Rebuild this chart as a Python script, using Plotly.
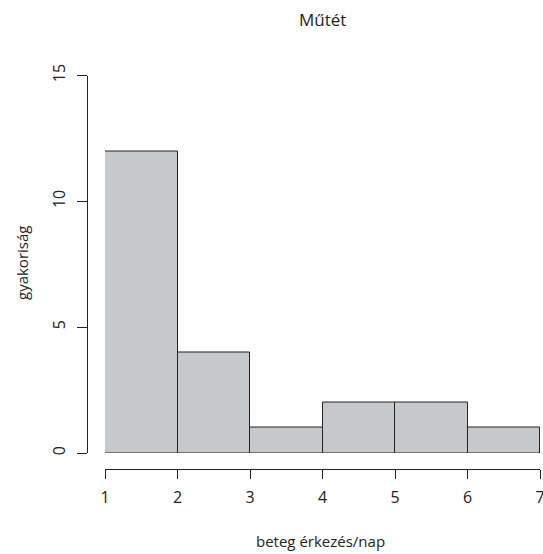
import plotly.graph_objects as go

# Data
breaks = [1, 2, 3, 4, 5, 6, 7]
counts = [12, 4, 1, 2, 2, 1]
x_ticks = [1, 2, 3, 4, 5, 6, 7]
y_ticks = [0, 5, 10, 15]
title = "Műtét"
x_title = "beteg érkezés/nap"
y_title = "gyakoriság"

W, H = 543, 554
mids = [(breaks[i] + breaks[i + 1]) / 2 for i in range(len(counts))]
widths = [breaks[i + 1] - breaks[i] for i in range(len(counts))]

FONT = "Open Sans"
LINE = "#222222"

fig = go.Figure()
fig.add_trace(go.Bar(
    x=mids, y=counts, width=widths,
    marker=dict(color="#c7c8ca", line=dict(color=LINE, width=1)),
    showlegend=False, hoverinfo="skip",
))

fig.update_layout(
    width=W, height=H,
    margin=dict(l=0, r=0, t=0, b=0),
    paper_bgcolor="white", plot_bgcolor="white",
    font=dict(family=FONT, size=15, color="#222222"),
    bargap=0,
    xaxis=dict(
        domain=[105 / W, 540 / W], range=[1, 7],
        anchor="free", position=1 - 468.5 / H,
        showline=True, linecolor=LINE, linewidth=1,
        ticks="outside", ticklen=9, tickcolor=LINE, tickwidth=1,
        tickvals=x_ticks, ticktext=[str(v) for v in x_ticks],
        showgrid=False, zeroline=False, automargin=False,
        ticklabeloverflow="allow", ticklabelstandoff=5,
        tickfont=dict(size=16),
    ),
    yaxis=dict(
        domain=[1 - 453 / H, 1 - 75.5 / H], range=[0, 15],
        anchor="free", position=87 / W,
        showline=True, linecolor=LINE, linewidth=1,
        ticks="outside", ticklen=10, tickcolor=LINE, tickwidth=1,
        tickvals=y_ticks, ticktext=[str(v) for v in y_ticks],
        tickangle=-90,
        showgrid=False, zeroline=False, automargin=False,
        ticklabeloverflow="allow", ticklabelstandoff=6,
        tickfont=dict(size=16),
    ),
    annotations=[
        dict(text=title, x=322.5 / W, y=1 - 20 / H, xref="paper", yref="paper",
             xanchor="center", yanchor="middle", showarrow=False,
             font=dict(size=17)),
        dict(text=x_title, x=320 / W, y=1 - 541 / H, xref="paper", yref="paper",
             xanchor="center", yanchor="middle", showarrow=False,
             font=dict(size=15)),
        dict(text=y_title, x=22 / W, y=1 - 263 / H, xref="paper", yref="paper",
             xanchor="center", yanchor="middle", showarrow=False, textangle=-90,
             font=dict(size=15)),
    ],
)

fig.write_html("out.html")
